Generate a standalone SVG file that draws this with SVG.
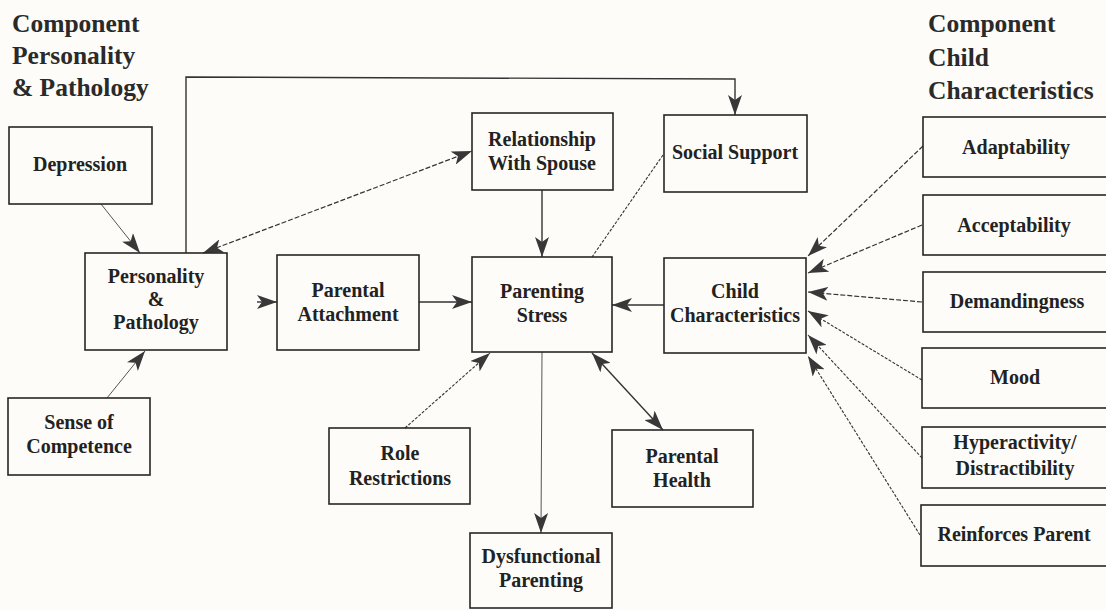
<svg xmlns="http://www.w3.org/2000/svg" width="1106" height="610" viewBox="0 0 1106 610">
  <defs>
    <marker id="arrow" viewBox="0 0 20 14" markerUnits="userSpaceOnUse" markerWidth="20" markerHeight="14" refX="20" refY="7" orient="auto-start-reverse">
      <path d="M0,0 L20,7 L0,14 L5,7 z" fill="#383838"/>
    </marker>
    <style>
      .box { fill: none; stroke: #262626; stroke-width: 1.6; }
      .lbl { font-family: "Liberation Serif", "DejaVu Serif", serif; font-weight: bold; font-size: 20px; fill: #222; text-anchor: middle; }
      .title { font-family: "Liberation Serif", "DejaVu Serif", serif; font-weight: bold; font-size: 25.5px; fill: #2a2a2a; }
      .solid { fill: none; stroke: #333; stroke-width: 1.4; }
      .thin { fill: none; stroke: #555; stroke-width: 1; }
      .dash { fill: none; stroke: #333; stroke-width: 1.2; stroke-dasharray: 5 2; }
      .dot { fill: none; stroke: #333; stroke-width: 1.1; stroke-dasharray: 3 1.5; }
    </style>
  </defs>

  <rect width="1106" height="610" fill="#fdfcf8"/>

  <!-- Section headings -->
  <g id="heading-left">
    <text class="title" x="12" y="32">Component</text>
    <text class="title" x="12" y="64">Personality</text>
    <text class="title" x="12" y="96">&amp; Pathology</text>
  </g>
  <g id="heading-right">
    <text class="title" x="928" y="32">Component</text>
    <text class="title" x="928" y="66">Child</text>
    <text class="title" x="928" y="99">Characteristics</text>
  </g>

  <!-- Connectors -->
  <g id="connectors">
    <path class="thin" d="M101,204 L140,253" marker-end="url(#arrow)"/>
    <path class="thin" d="M107,398 L145,351" marker-end="url(#arrow)"/>
    <path class="solid" d="M186,253 L186,77 L735,79 L735,115" marker-end="url(#arrow)"/>
    <path class="dash" d="M203,253 L472,151" marker-start="url(#arrow)" marker-end="url(#arrow)"/>
    <path class="solid" d="M542,190 L542,257" marker-end="url(#arrow)"/>
    <path class="solid" d="M257,302 L277,302" marker-end="url(#arrow)"/>
    <path class="solid" d="M419,302 L472,302" marker-end="url(#arrow)"/>
    <path class="solid" d="M664,305 L612,305" marker-end="url(#arrow)"/>
    <path class="dot" d="M663,155 L592,257"/>
    <path class="dot" d="M405,428 L490,353" marker-end="url(#arrow)"/>
    <path class="solid" d="M592,353 L663,430" marker-start="url(#arrow)" marker-end="url(#arrow)"/>
    <path class="thin" d="M542,352 L541,533" marker-end="url(#arrow)"/>
    <path class="dash" d="M923,146 L808,256" marker-end="url(#arrow)"/>
    <path class="dash" d="M922,225 L808,273" marker-end="url(#arrow)"/>
    <path class="dash" d="M922,302 L808,292" marker-end="url(#arrow)"/>
    <path class="dot" d="M922,380 L808,311" marker-end="url(#arrow)"/>
    <path class="dot" d="M922,458 L808,335" marker-end="url(#arrow)"/>
    <path class="dot" d="M920,535 L808,356" marker-end="url(#arrow)"/>
  </g>

  <!-- Personality & pathology side -->
  <g id="depression">
    <rect class="box" x="9" y="127" width="143" height="77"/>
    <text class="lbl" x="80" y="171">Depression</text>
  </g>
  <g id="personality-pathology">
    <rect class="box" x="85" y="253" width="142" height="97"/>
    <text class="lbl" x="156" y="283">Personality</text>
    <text class="lbl" x="156" y="306">&amp;</text>
    <text class="lbl" x="156" y="329">Pathology</text>
  </g>
  <g id="sense-of-competence">
    <rect class="box" x="8" y="398" width="142" height="77"/>
    <text class="lbl" x="79" y="429">Sense of</text>
    <text class="lbl" x="79" y="453">Competence</text>
  </g>
  <g id="parental-attachment">
    <rect class="box" x="277" y="255" width="142" height="95"/>
    <text class="lbl" x="348" y="297">Parental</text>
    <text class="lbl" x="348" y="321">Attachment</text>
  </g>

  <!-- Central column -->
  <g id="relationship-with-spouse">
    <rect class="box" x="472" y="113" width="141" height="77"/>
    <text class="lbl" x="542" y="146">Relationship</text>
    <text class="lbl" x="542" y="170">With Spouse</text>
  </g>
  <g id="social-support">
    <rect class="box" x="664" y="115" width="143" height="77"/>
    <text class="lbl" x="735" y="159">Social Support</text>
  </g>
  <g id="parenting-stress">
    <rect class="box" x="472" y="257" width="140" height="95"/>
    <text class="lbl" x="542" y="298">Parenting</text>
    <text class="lbl" x="542" y="322">Stress</text>
  </g>
  <g id="child-characteristics">
    <rect class="box" x="664" y="258" width="142" height="95"/>
    <text class="lbl" x="735" y="298">Child</text>
    <text class="lbl" x="735" y="322">Characteristics</text>
  </g>
  <g id="role-restrictions">
    <rect class="box" x="329" y="428" width="141" height="76"/>
    <text class="lbl" x="400" y="460">Role</text>
    <text class="lbl" x="400" y="485">Restrictions</text>
  </g>
  <g id="parental-health">
    <rect class="box" x="612" y="430" width="141" height="77"/>
    <text class="lbl" x="682" y="463">Parental</text>
    <text class="lbl" x="682" y="487">Health</text>
  </g>
  <g id="dysfunctional-parenting">
    <rect class="box" x="470" y="533" width="142" height="75"/>
    <text class="lbl" x="541" y="563">Dysfunctional</text>
    <text class="lbl" x="541" y="587">Parenting</text>
  </g>

  <!-- Child characteristics column -->
  <g id="adaptability">
    <rect class="box" x="923" y="117" width="195" height="60"/>
    <text class="lbl" x="1016" y="154">Adaptability</text>
  </g>
  <g id="acceptability">
    <rect class="box" x="923" y="195" width="195" height="60"/>
    <text class="lbl" x="1014" y="232">Acceptability</text>
  </g>
  <g id="demandingness">
    <rect class="box" x="923" y="272" width="195" height="60"/>
    <text class="lbl" x="1017" y="308">Demandingness</text>
  </g>
  <g id="mood">
    <rect class="box" x="922" y="348" width="196" height="60"/>
    <text class="lbl" x="1015" y="384">Mood</text>
  </g>
  <g id="hyperactivity-distractibility">
    <rect class="box" x="922" y="427" width="196" height="61"/>
    <text class="lbl" x="1015" y="449">Hyperactivity/</text>
    <text class="lbl" x="1015" y="475">Distractibility</text>
  </g>
  <g id="reinforces-parent">
    <rect class="box" x="921" y="505" width="197" height="61"/>
    <text class="lbl" x="1014" y="541">Reinforces Parent</text>
  </g>
</svg>
